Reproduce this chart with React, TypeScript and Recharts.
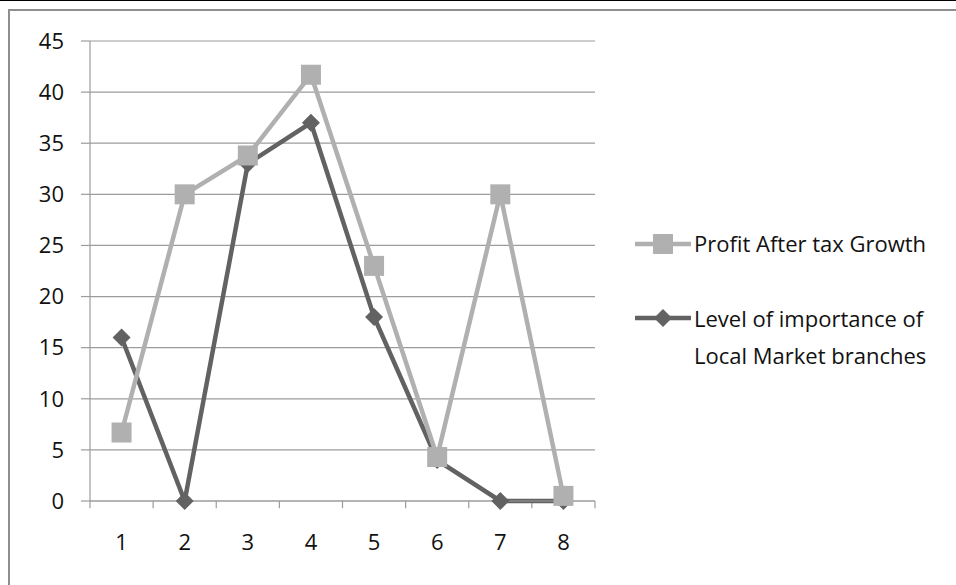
import { CartesianGrid, Line, LineChart, ReferenceLine, XAxis, YAxis } from "recharts";

const categories = [1, 2, 3, 4, 5, 6, 7, 8];
const profitGrowth = [6.7, 30, 33.8, 41.7, 23, 4.3, 30, 0.5];
const localImportance = [16, 0, 33, 37, 18, 4, 0, 0];
const yTicks = [0, 5, 10, 15, 20, 25, 30, 35, 40, 45];
const bandEdges = [0.5, 1.5, 2.5, 3.5, 4.5, 5.5, 6.5, 7.5, 8.5];

const LIGHT = "#b0b0b0";
const DARK = "#626262";
const GRID = "#9c9c9c";
const FONT = "'Open Sans', sans-serif";
const FS = 22;

const data = categories.map((c, i) => ({ c, profit: profitGrowth[i], local: localImportance[i] }));

function SquareDot({ cx, cy }: any) {
  if (cx == null || cy == null) return null;
  return <rect x={cx - 10} y={cy - 10} width={20} height={20} fill={LIGHT} />;
}

function DiamondDot({ cx, cy }: any) {
  if (cx == null || cy == null) return null;
  return <polygon points={`${cx},${cy - 9} ${cx + 9},${cy} ${cx},${cy + 9} ${cx - 9},${cy}`} fill={DARK} />;
}

function LegendIcon({ kind }: { kind: "square" | "diamond" }) {
  const color = kind === "square" ? LIGHT : DARK;
  return (
    <svg width={56} height={22} style={{ display: "block", flex: "none" }}>
      <line x1={0} y1={11} x2={56} y2={11} stroke={color} strokeWidth={4.5} />
      {kind === "square" ? (
        <rect x={18} y={1} width={20} height={20} fill={color} />
      ) : (
        <polygon points="28,2 37,11 28,20 19,11" fill={color} />
      )}
    </svg>
  );
}

export default function App() {
  return (
    <div style={{ position: "absolute", left: 0, top: 0, width: 956, height: 585, overflow: "hidden", background: "#fff", fontFamily: FONT }}>
      <div style={{ position: "absolute", left: 0, top: 0, width: 956, height: 1, background: "#000" }} />
      <div style={{ position: "absolute", left: 8, top: 9, width: 980, height: 620, border: "2px solid #8e8e8e" }} />

      <div style={{ position: "absolute", left: 0, top: 0 }}>
        <LineChart width={956} height={585} data={data} margin={{ top: 41, right: 361, left: 30, bottom: 44 }}>
          <CartesianGrid horizontal vertical={false} stroke={GRID} strokeWidth={1.2} />
          <XAxis
            dataKey="c"
            type="number"
            domain={[0.5, 8.5]}
            ticks={categories}
            tickLine={false}
            axisLine={{ stroke: GRID, strokeWidth: 1.2 }}
            height={40}
            tickSize={6}
            tickMargin={27}
            tick={{ fill: "#111", fontSize: FS, fontFamily: FONT }}
          />
          <YAxis
            domain={[0, 45]}
            ticks={yTicks}
            width={60}
            tickSize={9}
            tickMargin={17}
            tickLine={{ stroke: GRID, strokeWidth: 1.2 }}
            axisLine={{ stroke: GRID, strokeWidth: 1.2 }}
            tick={{ fill: "#111", fontSize: FS, fontFamily: FONT }}
          />
          {bandEdges.map((e) => (
            <ReferenceLine
              key={e}
              segment={[
                { x: e, y: 0 },
                { x: e, y: -0.7 },
              ]}
              stroke={GRID}
              strokeWidth={1.2}
              ifOverflow="visible"
            />
          ))}
          <Line
            dataKey="local"
            stroke={DARK}
            strokeWidth={4.5}
            dot={<DiamondDot />}
            activeDot={false}
            isAnimationActive={false}
          />
          <Line
            dataKey="profit"
            stroke={LIGHT}
            strokeWidth={4.5}
            dot={<SquareDot />}
            activeDot={false}
            isAnimationActive={false}
          />
        </LineChart>
      </div>

      <div style={{ position: "absolute", left: 635, top: 225, fontSize: FS, color: "#111", lineHeight: "37px" }}>
        <div style={{ display: "flex", alignItems: "center", gap: 3 }}>
          <LegendIcon kind="square" />
          <span>Profit After tax Growth</span>
        </div>
        <div style={{ display: "flex", alignItems: "flex-start", gap: 3, marginTop: 38 }}>
          <div style={{ paddingTop: 7 }}>
            <LegendIcon kind="diamond" />
          </div>
          <span>
            Level of importance of
            <br />
            Local Market branches
          </span>
        </div>
      </div>
    </div>
  );
}
